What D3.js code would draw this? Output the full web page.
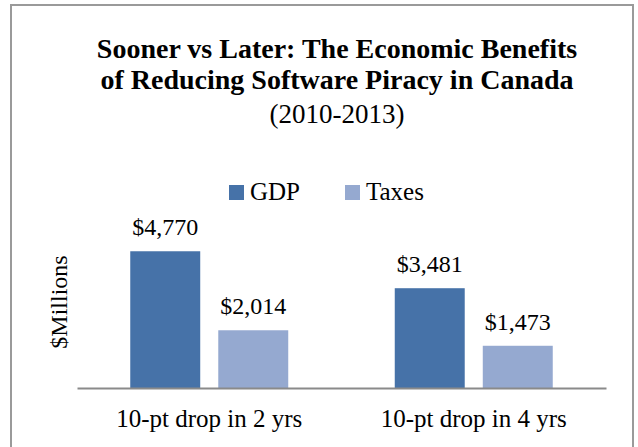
<!DOCTYPE html>
<html>
<head>
<meta charset="utf-8">
<script src="https://cdn.jsdelivr.net/npm/d3@7"></script>
<style>
  body { margin: 0; background: #fff; }
  text { font-family: "Liberation Serif", "DejaVu Serif", serif; fill: #000; }
</style>
</head>
<body>
<div id="chart"></div>
<script>
var categories = ["10-pt drop in 2 yrs", "10-pt drop in 4 yrs"];
var series = ["GDP", "Taxes"];
var gdp_values = [4770, 3481];
var tax_values = [2014, 1473];
var title_lines = ["Sooner vs Later: The Economic Benefits", "of Reducing Software Piracy in Canada"];
var subtitle = "(2010-2013)";
var y_label = "$Millions";

var full_width = 638, full_height = 447;
var plot = {'left': 77, 'right': 606, 'top': 216, 'bottom': 388};
var colors = {"GDP": "#4672a8", "Taxes": "#95a9d0"};

var svg = d3.select("#chart")
            .append("svg")
            .attr("width", full_width)
            .attr("height", full_height);

// outer frame
svg.append("rect")
   .attr("x", 11).attr("y", 5)
   .attr("width", 622).attr("height", 446)
   .attr("fill", "#fff")
   .attr("stroke", "#9a9a9a")
   .attr("stroke-width", 2);

// title
svg.selectAll(".title")
   .data(title_lines)
   .enter().append("text")
   .attr("class", "title")
   .attr("x", 337)
   .attr("y", (d, i) => 58 + i * 31)
   .attr("text-anchor", "middle")
   .style("font-size", "28px")
   .style("font-weight", "bold")
   .text(d => d);

svg.append("text")
   .attr("x", 337).attr("y", 123)
   .attr("text-anchor", "middle")
   .style("font-size", "27px")
   .text(subtitle);

// scales
var x0 = d3.scaleBand()
           .domain(categories)
           .range([plot.left, plot.right])
           .paddingInner(0).paddingOuter(0);

var x1 = d3.scaleBand()
           .domain(series)
           .range([0, x0.bandwidth()])
           .paddingInner(0.205)
           .paddingOuter(0.605);

var y = d3.scaleLinear()
          .domain([0, 6000])
          .range([plot.bottom, plot.top]);

var data = categories.map((c, i) => ({cat: c, values: [
    {key: "GDP", value: gdp_values[i]},
    {key: "Taxes", value: tax_values[i]}
]}));

var groups = svg.selectAll(".group")
                .data(data)
                .enter().append("g")
                .attr("transform", d => "translate(" + x0(d.cat) + ",0)");

groups.selectAll("rect")
      .data(d => d.values)
      .enter().append("rect")
      .attr("x", d => x1(d.key))
      .attr("width", x1.bandwidth())
      .attr("y", d => y(d.value))
      .attr("height", d => y(0) - y(d.value))
      .attr("fill", d => colors[d.key]);

groups.selectAll(".lbl")
      .data(d => d.values)
      .enter().append("text")
      .attr("class", "lbl")
      .attr("x", d => x1(d.key) + x1.bandwidth() / 2)
      .attr("y", d => y(d.value) - 16)
      .attr("text-anchor", "middle")
      .style("font-size", "24px")
      .text(d => "$" + d3.format(",")(d.value));

// baseline axis
var x_axis = d3.axisBottom(x0).tickSize(0).tickPadding(0);
var ax = svg.append("g")
            .attr("transform", "translate(0," + plot.bottom + ")")
            .call(x_axis);
ax.select(".domain").attr("stroke", "#8a8a8a").attr("stroke-width", 2);
ax.selectAll("text")
  .attr("dy", null)
  .attr("y", 39)
  .style("font-family", '"Liberation Serif", serif')
  .style("font-size", "25px")
  .attr("fill", "#000");

// y label
svg.append("text")
   .attr("transform", "translate(67,302) rotate(-90)")
   .attr("text-anchor", "middle")
   .style("font-size", "24px")
   .text(y_label);

// legend
var legend_x = [229, 345];
var legend = svg.selectAll(".legend")
                .data(series)
                .enter().append("g")
                .attr("transform", (d, i) => "translate(" + legend_x[i] + ",185)");
legend.append("rect")
      .attr("width", 15).attr("height", 15)
      .attr("fill", d => colors[d]);
legend.append("text")
      .attr("x", 21).attr("y", 15)
      .style("font-size", "25px")
      .text(d => d);
</script>
</body>
</html>
